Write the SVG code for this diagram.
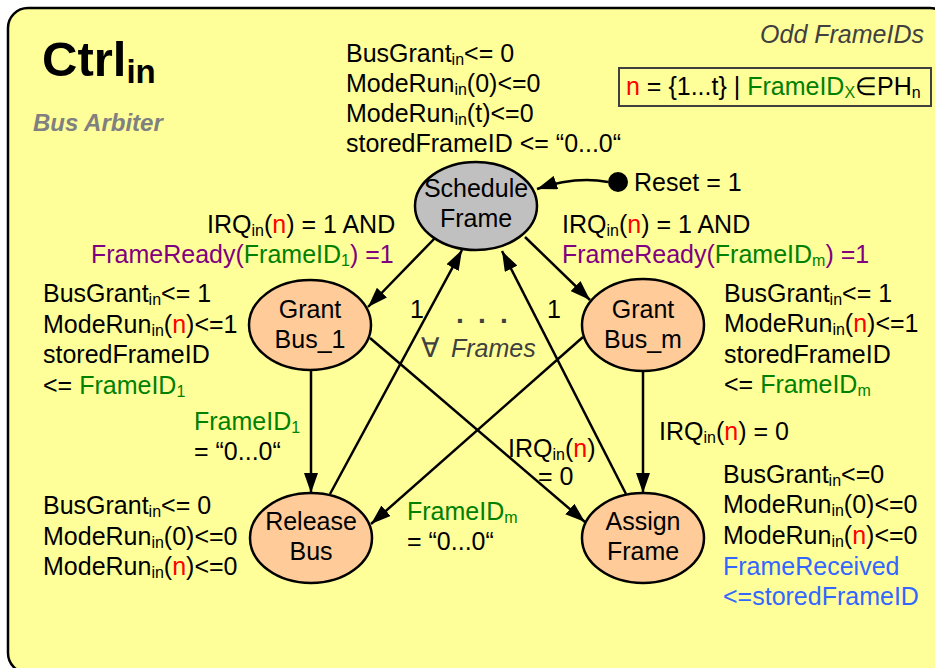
<svg xmlns="http://www.w3.org/2000/svg" width="935" height="668" viewBox="0 0 935 668">
<style>
.t{font-family:"Liberation Sans",Arial,sans-serif;font-size:25px;fill:#000}
.s{font-size:16px}
.r{fill:#FF0000}
.g{fill:#008000}
.p{fill:#800080}
.b{fill:#3366FF}
.k{fill:#000}
.node{stroke:#000;stroke-width:2.5}
.edge{fill:none;stroke:#000;stroke-width:2.5}
</style>
<defs>
<marker id="ah" viewBox="0 0 20 14" refX="20" refY="7" markerWidth="20" markerHeight="14" markerUnits="userSpaceOnUse" orient="auto">
<path d="M0,0 L20,7 L0,14 z" fill="#000"/>
</marker>
</defs>
<rect x="8" y="8" width="942" height="665" rx="20" fill="#FFFF99" stroke="#000" stroke-width="2.5"/>
<g id="title">
<text class="t" x="42" y="76" style="font-size:49px;font-weight:bold">Ctrl<tspan dy="7" style="font-size:33px">in</tspan></text>
<text class="t" x="33" y="131" style="font-size:24px;font-weight:bold;font-style:italic;fill:#808080">Bus Arbiter</text>
<text class="t" x="924" y="43" text-anchor="end" style="font-style:italic;fill:#404040">Odd FrameIDs</text>
</g>
<g id="legend">
<rect x="619" y="68" width="312" height="38" fill="none" stroke="#404040" stroke-width="2"/>
<text class="t" x="626" y="95"><tspan class="r">n</tspan> = {1...t} | <tspan class="g">FrameID</tspan><tspan class="s g" dy="3">X</tspan><tspan dy="-3">∈PH</tspan><tspan class="s" dy="3">n</tspan></text>
</g>
<g id="connectors">
<line class="edge" x1="435" y1="238" x2="368" y2="307" marker-end="url(#ah)"/>
<line class="edge" x1="525" y1="237" x2="590" y2="300" marker-end="url(#ah)"/>
<line class="edge" x1="311" y1="371" x2="311" y2="493" marker-end="url(#ah)"/>
<line class="edge" x1="643" y1="372" x2="643" y2="493" marker-end="url(#ah)"/>
<line class="edge" x1="330" y1="494" x2="462" y2="250" marker-end="url(#ah)"/>
<line class="edge" x1="626" y1="494" x2="502" y2="251" marker-end="url(#ah)"/>
<line class="edge" x1="370" y1="338" x2="585" y2="522" marker-end="url(#ah)"/>
<line class="edge" x1="583" y1="337" x2="371" y2="524" marker-end="url(#ah)"/>
<circle cx="618" cy="182" r="10" fill="#000"/>
<path class="edge" d="M608,182 Q575,176 537,189" marker-end="url(#ah)"/>
</g>
<g id="schedule">
<ellipse class="node" cx="476" cy="206" rx="61" ry="44" fill="#C0C0C0"/>
<text class="t" x="476" y="197" text-anchor="middle">Schedule</text>
<text class="t" x="476" y="227" text-anchor="middle">Frame</text>
</g>
<g id="grant1">
<ellipse class="node" cx="310" cy="325" rx="61" ry="45" fill="#FFCC99"/>
<text class="t" x="310" y="318" text-anchor="middle">Grant</text>
<text class="t" x="310" y="348" text-anchor="middle">Bus_1</text>
</g>
<g id="grantm">
<ellipse class="node" cx="643" cy="325" rx="61" ry="46" fill="#FFCC99"/>
<text class="t" x="643" y="318" text-anchor="middle">Grant</text>
<text class="t" x="643" y="348" text-anchor="middle">Bus_m</text>
</g>
<g id="release">
<ellipse class="node" cx="311" cy="538" rx="61" ry="45" fill="#FFCC99"/>
<text class="t" x="311" y="530" text-anchor="middle">Release</text>
<text class="t" x="311" y="560" text-anchor="middle">Bus</text>
</g>
<g id="assign">
<ellipse class="node" cx="643" cy="538" rx="61" ry="45" fill="#FFCC99"/>
<text class="t" x="643" y="530" text-anchor="middle">Assign</text>
<text class="t" x="643" y="560" text-anchor="middle">Frame</text>
</g>
<g id="labels">
<text class="t" x="346" y="62">BusGrant<tspan class="s" dy="3">in</tspan><tspan dy="-3">&lt;= 0</tspan></text>
<text class="t" x="346" y="92">ModeRun<tspan class="s" dy="3">in</tspan><tspan dy="-3">(0)&lt;=0</tspan></text>
<text class="t" x="346" y="122">ModeRun<tspan class="s" dy="3">in</tspan><tspan dy="-3">(t)&lt;=0</tspan></text>
<text class="t" x="346" y="152">storedFrameID &lt;= “0...0“</text>
<text class="t" x="634" y="191">Reset = 1</text>
<text class="t" x="207" y="233">IRQ<tspan class="s" dy="3">in</tspan><tspan dy="-3">(</tspan><tspan class="r">n</tspan>) = 1 AND</text>
<text class="t p" x="91" y="263">FrameReady(<tspan class="g">FrameID</tspan><tspan class="s g" dy="3">1</tspan><tspan dy="-3">) =1</tspan></text>
<text class="t" x="562" y="233">IRQ<tspan class="s" dy="3">in</tspan><tspan dy="-3">(</tspan><tspan class="r">n</tspan>) = 1 AND</text>
<text class="t p" x="562" y="263">FrameReady(<tspan class="g">FrameID</tspan><tspan class="s g" dy="3">m</tspan><tspan dy="-3">) =1</tspan></text>
<text class="t" x="43" y="302">BusGrant<tspan class="s" dy="3">in</tspan><tspan dy="-3">&lt;= 1</tspan></text>
<text class="t" x="43" y="333">ModeRun<tspan class="s" dy="3">in</tspan><tspan dy="-3">(</tspan><tspan class="r">n</tspan>)&lt;=1</text>
<text class="t" x="43" y="363">storedFrameID</text>
<text class="t" x="43" y="394">&lt;= <tspan class="g">FrameID</tspan><tspan class="s g" dy="3">1</tspan></text>
<text class="t" x="724" y="302">BusGrant<tspan class="s" dy="3">in</tspan><tspan dy="-3">&lt;= 1</tspan></text>
<text class="t" x="724" y="332">ModeRun<tspan class="s" dy="3">in</tspan><tspan dy="-3">(</tspan><tspan class="r">n</tspan>)&lt;=1</text>
<text class="t" x="724" y="363">storedFrameID</text>
<text class="t" x="724" y="393">&lt;= <tspan class="g">FrameID</tspan><tspan class="s g" dy="3">m</tspan></text>
<text class="t" x="410" y="318">1</text>
<text class="t" x="547" y="318">1</text>
<text class="t" x="456 478 500" y="323" style="font-weight:bold;font-size:28px;fill:#404040">...</text>
<text class="t" x="421" y="357" style="fill:#404040;font-size:27px">∀<tspan x="451" style="font-style:italic;font-size:25px">Frames</tspan></text>
<text class="t g" x="194" y="430">FrameID<tspan class="s" dy="3">1</tspan></text>
<text class="t" x="194" y="460">= “0...0“</text>
<text class="t" x="659" y="440">IRQ<tspan class="s" dy="3">in</tspan><tspan dy="-3">(</tspan><tspan class="r">n</tspan>) = 0</text>
<text class="t" x="508" y="457">IRQ<tspan class="s" dy="3">in</tspan><tspan dy="-3">(</tspan><tspan class="r">n</tspan>)</text>
<text class="t" x="538" y="485">= 0</text>
<text class="t" x="43" y="514">BusGrant<tspan class="s" dy="3">in</tspan><tspan dy="-3">&lt;= 0</tspan></text>
<text class="t" x="43" y="545">ModeRun<tspan class="s" dy="3">in</tspan><tspan dy="-3">(0)&lt;=0</tspan></text>
<text class="t" x="43" y="575">ModeRun<tspan class="s" dy="3">in</tspan><tspan dy="-3">(</tspan><tspan class="r">n</tspan>)&lt;=0</text>
<text class="t g" x="407" y="520">FrameID<tspan class="s" dy="3">m</tspan></text>
<text class="t" x="407" y="550">= “0...0“</text>
<text class="t" x="723" y="483">BusGrant<tspan class="s" dy="3">in</tspan><tspan dy="-3">&lt;=0</tspan></text>
<text class="t" x="723" y="513">ModeRun<tspan class="s" dy="3">in</tspan><tspan dy="-3">(0)&lt;=0</tspan></text>
<text class="t" x="723" y="544">ModeRun<tspan class="s" dy="3">in</tspan><tspan dy="-3">(</tspan><tspan class="r">n</tspan>)&lt;=0</text>
<text class="t b" x="723" y="575">FrameReceived</text>
<text class="t b" x="723" y="605">&lt;=storedFrameID</text>
</g>
</svg>
